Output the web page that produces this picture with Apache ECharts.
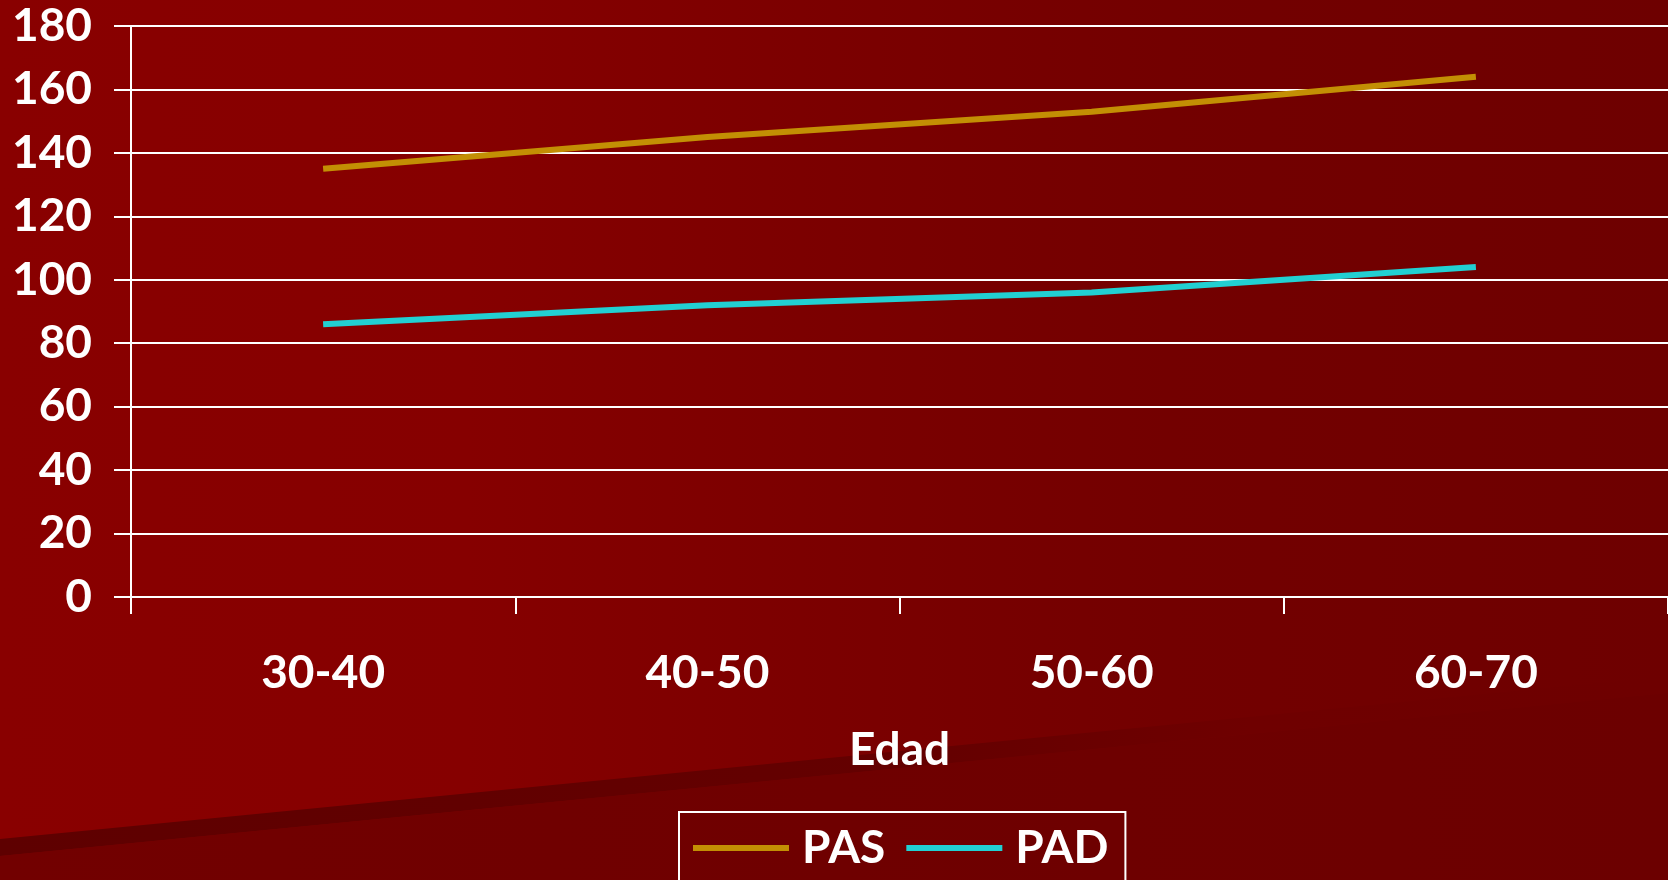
<!DOCTYPE html>
<html>
<head>
<meta charset="utf-8">
<script src="https://cdn.jsdelivr.net/npm/echarts@6/dist/echarts.min.js"></script>
<style>
  html, body { margin: 0; padding: 0; background: #800000; }
  #chart { width: 1668px; height: 880px; }
</style>
</head>
<body>
<div id="chart"></div>
<script>
// Blood pressure by age group
const ageGroups = ['30-40', '40-50', '50-60', '60-70'];
const pasValues = [135, 145, 153, 164];   // systolic
const padValues = [86, 92, 96, 104];      // diastolic
const seriesNames = ['PAS', 'PAD'];
const xAxisTitle = 'Edad';
const yMin = 0, yMax = 180, yStep = 20;

const FONT = 'Lato, "Open Sans", sans-serif';
const W = 1668, H = 880;

const chart = echarts.init(document.getElementById('chart'), null, { renderer: 'canvas' });

const labelText = { color: '#ffffff', fontFamily: FONT, fontWeight: 'bold', fontSize: 46 };

chart.setOption({
  animation: false,
  backgroundColor: {
    type: 'linear', x: 0, y: 0, x2: 1, y2: 0,
    colorStops: [
      { offset: 0, color: '#890000' },
      { offset: 0.28, color: '#860000' },
      { offset: 0.5, color: '#7b0000' },
      { offset: 0.7, color: '#730000' },
      { offset: 1, color: '#6e0000' }
    ]
  },
  graphic: {
    elements: [
      {
        // darker lower panel of the slide background
        type: 'polygon', silent: true, z: -10,
        shape: { points: [[0, 856], [W, 693], [W, H], [0, H]] },
        style: {
          fill: {
            type: 'linear', x: 0, y: 0, x2: 1, y2: 0,
            colorStops: [{ offset: 0, color: '#720000' }, { offset: 1, color: '#6c0000' }]
          }
        }
      },
      {
        // thin diagonal band
        type: 'polygon', silent: true, z: -9,
        shape: { points: [[0, 839], [W, 676], [W, 693], [0, 856]] },
        style: {
          fill: {
            type: 'linear', x: 0, y: 0, x2: 1, y2: 0,
            colorStops: [
              { offset: 0, color: '#5e0000' },
              { offset: 0.55, color: '#640000' },
              { offset: 0.75, color: '#6f0000' },
              { offset: 1, color: '#6e0000' }
            ]
          }
        }
      }
    ]
  },
  grid: { left: 131, right: 0, top: 26, bottom: 283, containLabel: false },
  legend: {
    data: seriesNames,
    left: 679, top: 812,
    orient: 'horizontal',
    padding: [13, 17, 40, 14],
    itemGap: 21,
    itemWidth: 96,
    itemHeight: 6,
    icon: 'rect',
    borderColor: '#ffffff',
    borderWidth: 2,
    textStyle: Object.assign({}, labelText, { padding: [0, 0, 0, 8] })
  },
  xAxis: {
    type: 'category',
    data: ageGroups,
    boundaryGap: true,
    name: xAxisTitle,
    nameLocation: 'middle',
    nameGap: 130,
    nameTextStyle: labelText,
    axisLine: { show: true, lineStyle: { color: '#ffffff', width: 2 } },
    axisTick: { show: true, inside: false, length: 17, lineStyle: { color: '#ffffff', width: 2 } },
    axisLabel: Object.assign({ margin: 53 }, labelText),
    splitLine: { show: false }
  },
  yAxis: {
    type: 'value',
    min: yMin, max: yMax, interval: yStep,
    axisLine: { show: true, lineStyle: { color: '#ffffff', width: 2 } },
    axisTick: { show: true, inside: false, length: 17, lineStyle: { color: '#ffffff', width: 2 } },
    axisLabel: Object.assign({ margin: 39 }, labelText),
    splitLine: { show: true, lineStyle: { color: '#ffffff', width: 2 } }
  },
  series: [
    {
      name: seriesNames[0], type: 'line', data: pasValues,
      showSymbol: false, symbol: 'none',
      color: '#c38f04',
      lineStyle: { color: '#c38f04', width: 6 }
    },
    {
      name: seriesNames[1], type: 'line', data: padValues,
      showSymbol: false, symbol: 'none',
      color: '#22d0d2',
      lineStyle: { color: '#22d0d2', width: 6 }
    }
  ]
});
</script>
</body>
</html>
